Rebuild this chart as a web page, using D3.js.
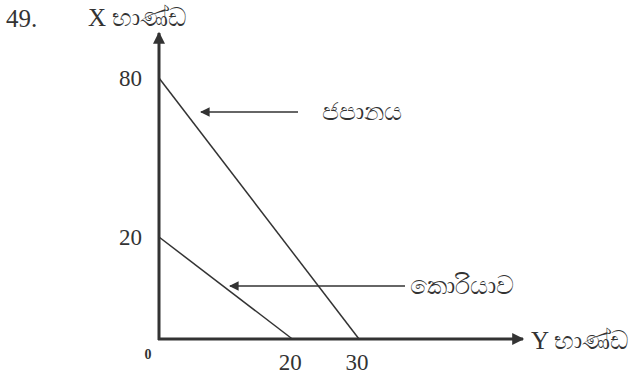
<!DOCTYPE html>
<html>
<head>
<meta charset="utf-8">
<script src="https://cdn.jsdelivr.net/npm/d3@7"></script>
<style>
  body { margin: 0; background: #fff; }
  text { font-family: "Liberation Serif", "Times New Roman", serif; fill: #333; }
</style>
</head>
<body>
<div id="chart"></div>
<script>
(function () {

	// data
	var countries = ["ජපානය", "කොරියාව"];
	var maxX = [80, 20];   // X goods when all resources go to X
	var maxY = [30, 20];   // Y goods when all resources go to Y
	var xTicks = [20, 30];
	var yTicks = [20, 80];

	var width = 637, height = 375;

	var svg = d3.select("#chart")
		.append("svg")
		.attr("width", width)
		.attr("height", height);

	// the drawing is schematic, so the vertical scale is piecewise
	var x = d3.scaleLinear().domain([0, 30]).range([159, 359]);
	var y = d3.scaleLinear().domain([0, 20, 80]).range([339, 237, 78]);

	var ink = "#333";

	var defs = svg.append("defs");
	defs.append("marker")
		.attr("id", "head")
		.attr("viewBox", "0 0 10 10")
		.attr("refX", 9).attr("refY", 5)
		.attr("markerWidth", 4.5).attr("markerHeight", 4)
		.attr("markerUnits", "strokeWidth")
		.attr("orient", "auto")
		.append("path")
		.attr("d", "M0,0 L10,5 L0,10 Z")
		.attr("fill", ink);
	defs.append("marker")
		.attr("id", "headSmall")
		.attr("viewBox", "0 0 10 10")
		.attr("refX", 9).attr("refY", 5)
		.attr("markerWidth", 7).attr("markerHeight", 6)
		.attr("markerUnits", "strokeWidth")
		.attr("orient", "auto")
		.append("path")
		.attr("d", "M0,0 L10,5 L0,10 Z")
		.attr("fill", ink);

	// axes
	svg.append("line")
		.attr("x1", x(0)).attr("y1", y(0) + 1)
		.attr("x2", x(0)).attr("y2", 33)
		.attr("stroke", ink).attr("stroke-width", 3)
		.attr("marker-end", "url(#head)");
	svg.append("line")
		.attr("x1", x(0) - 1).attr("y1", y(0))
		.attr("x2", 523).attr("y2", y(0))
		.attr("stroke", ink).attr("stroke-width", 3)
		.attr("marker-end", "url(#head)");

	// production possibility lines
	svg.selectAll(".ppf")
		.data(countries)
		.enter().append("line")
		.attr("class", "ppf")
		.attr("x1", x(0))
		.attr("y1", function(d, i){ return y(maxX[i]) })
		.attr("x2", function(d, i){ return x(maxY[i]) })
		.attr("y2", y(0))
		.attr("stroke", ink)
		.attr("stroke-width", 1.5);

	// tick labels
	svg.selectAll(".ytick")
		.data(yTicks)
		.enter().append("text")
		.attr("class", "ytick")
		.attr("x", 142)
		.attr("y", function(d){ return y(d) + 8 })
		.attr("text-anchor", "end")
		.attr("font-size", 23)
		.text(function(d){ return d });

	svg.selectAll(".xtick")
		.data(xTicks)
		.enter().append("text")
		.attr("class", "xtick")
		.attr("x", function(d){ return x(d) - 2 })
		.attr("y", 370)
		.attr("text-anchor", "middle")
		.attr("font-size", 23)
		.text(function(d){ return d });

	svg.append("text")
		.attr("x", 148).attr("y", 359)
		.attr("text-anchor", "middle")
		.attr("font-size", 14)
		.attr("font-weight", "bold")
		.text("0");

	// question number and axis titles
	svg.append("text")
		.attr("x", 6).attr("y", 27)
		.attr("font-size", 25)
		.text("49.");

	svg.append("text")
		.attr("x", 88).attr("y", 26)
		.attr("font-size", 25)
		.text("X භාණ්ඩ");

	svg.append("text")
		.attr("x", 531).attr("y", 349)
		.attr("font-size", 25)
		.text("Y භාණ්ඩ");

	// labels pointing at each line
	var arrowY = [112, 286];
	var arrowX1 = [298, 405];
	var arrowX2 = [201, 230];
	var labelX = [322, 410];

	svg.selectAll(".pointer")
		.data(countries)
		.enter().append("line")
		.attr("class", "pointer")
		.attr("x1", function(d, i){ return arrowX1[i] })
		.attr("x2", function(d, i){ return arrowX2[i] })
		.attr("y1", function(d, i){ return arrowY[i] })
		.attr("y2", function(d, i){ return arrowY[i] })
		.attr("stroke", ink)
		.attr("stroke-width", 1.6)
		.attr("marker-end", "url(#headSmall)");

	svg.selectAll(".country")
		.data(countries)
		.enter().append("text")
		.attr("class", "country")
		.attr("x", function(d, i){ return labelX[i] })
		.attr("y", function(d, i){ return arrowY[i] + 8 })
		.attr("font-size", 25)
		.text(function(d){ return d });

})();
</script>
</body>
</html>
